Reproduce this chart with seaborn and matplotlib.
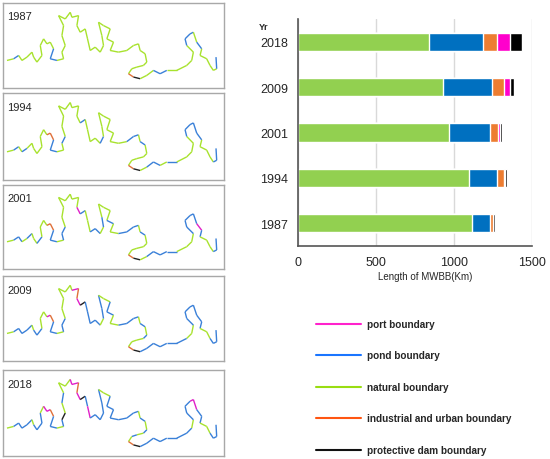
import numpy as np
import pandas as pd
import seaborn as sns
import matplotlib.pyplot as plt
from matplotlib.collections import LineCollection
from matplotlib.lines import Line2D

# bar chart data (km)
years = ['2018', '2009', '2001', '1994', '1987']
categories = ['natural', 'pond', 'industrial', 'port', 'dam']
natural = [838, 929, 968, 1094, 1118]
pond = [348, 312, 265, 184, 115]
industrial = [90, 80, 47, 40, 15]
port = [81, 36, 17, 11, 4]
dam = [81, 30, 13, 11, 11]

bar_colors = {'natural': '#92d050', 'pond': '#0070c0', 'industrial': '#ed7d31',
              'port': '#ff00cc', 'dam': '#000000'}

# rough coastline traced from the 1987 map (pixel coords inside the panel)
coast_x = [20, 40, 55, 65, 80, 95, 100, 110, 125, 120, 130, 140, 150, 160, 150, 170, 190, 185, 195,
           185, 190, 175, 195, 210, 215, 235, 230, 240, 255, 262, 270, 285, 300, 310, 305, 295, 310,
           330, 320, 340, 330, 355, 380, 400, 415, 420, 435, 440, 430, 410, 395, 385, 400, 420, 440,
           460, 480, 500, 530, 560, 575, 580, 560, 555, 570, 580, 590, 605, 600, 620, 630, 640, 650, 648]
coast_y = [185, 180, 170, 185, 175, 160, 175, 190, 170, 140, 120, 135, 130, 150, 180, 185, 180, 160, 140,
           110, 80, 50, 60, 40, 55, 50, 80, 100, 90, 120, 155, 145, 160, 140, 110, 70, 80,
           90, 120, 130, 155, 160, 155, 140, 135, 155, 165, 190, 200, 205, 210, 225, 235, 240, 230,
           215, 225, 215, 215, 200, 185, 160, 140, 120, 105, 100, 130, 150, 170, 180, 200, 215, 210, 175]

# boundary type of each coastline segment per year (g natural, b pond, o industrial, m port, k dam)
seg_1987 = "gbgggggggg" "gggbbggggg" "gggggggggg" "gggggggggg" "gggggggggg" "gokggbbggg" "ggbbbgbggg" "ggb"
seg_1994 = "gbgbgggggg" "goobbggbgg" "gggggggbgg" "ggbggggggg" "ggbbgbgggg" "gokgbbgbgg" "ggbbbbbggg" "gbb"
seg_2001 = "gbbgbggbgg" "goobbgbbgg" "ggggggmbgg" "bbgbggggbg" "gbbbgbgggg" "gokgbbbbgg" "gbbbbbmbgg" "gbb"
seg_2009 = "gbbbbgbbgg" "gmobbgbbgg" "ggggmomkbb" "bbgbbggbbg" "gbbbgbgbgg" "gokbbbbbbg" "gbbbbbbbgg" "bbb"
seg_2018 = "gbbbbgbbbg" "mmobbgbkgb" "gggmmomkbm" "bbbbbggbbb" "bbbbgbgbgb" "gokbbbbbbb" "gbbbmmbbgg" "bbb"
map_years = ['1987', '1994', '2001', '2009', '2018']
map_segs = [seg_1987, seg_1994, seg_2001, seg_2009, seg_2018]
map_colors = {'g': '#a8e22e', 'b': '#3a80d8', 'o': '#e0703a', 'm': '#e020c8', 'k': '#202020'}

legend_labels = ['port boundary', 'pond boundary', 'natural boundary',
                 'industrial and urban boundary', 'protective dam boundary']
legend_colors = ['#ff22cc', '#1a75ff', '#99dd11', '#ff5511', '#111111']

sns.set_style('white')
plt.rcParams['font.family'] = ['Liberation Sans', 'DejaVu Sans']

fig = plt.figure(figsize=(5.5, 4.6), dpi=100)

# ---- left: map panels
panel_px = [(4, 89), (94, 181), (186, 270), (277, 362), (371, 457)]
cx = (np.array(coast_x) - 8) / 664
cy = (np.array(coast_y) - 12) / 256
pts = np.column_stack([cx, cy])
segments = np.stack([pts[:-1], pts[1:]], axis=1)
for (top, bot), yr, seg in zip(panel_px, map_years, map_segs):
    ax = fig.add_axes([3 / 550, 1 - bot / 460, 221 / 550, (bot - top) / 460])
    lc = LineCollection(segments, colors=[map_colors[c] for c in seg], linewidths=1.0)
    ax.add_collection(lc)
    ax.set_xlim(0, 1)
    ax.set_ylim(1, 0)
    ax.set_xticks([])
    ax.set_yticks([])
    for s in ax.spines.values():
        s.set_color('#a8a8a8')
        s.set_linewidth(1.0)
    ax.text(0.02, 0.9, yr, transform=ax.transAxes, fontsize=8, va='top', ha='left')

# ---- right: stacked horizontal bars
rows = []
for i, yr in enumerate(years):
    vals = [natural[i], pond[i], industrial[i], port[i], dam[i]]
    cum = np.cumsum(vals)
    for c, v in zip(categories, cum):
        rows.append({'year': yr, 'category': c, 'cum': v})
df = pd.DataFrame(rows)

axb = fig.add_axes([297.7 / 550, 1 - 247 / 460, 234.3 / 550, 227 / 460])
for c in categories[::-1]:
    sns.barplot(data=df[df['category'] == c], x='cum', y='year', order=years,
                color=bar_colors[c], width=0.4, errorbar=None, saturation=1, ax=axb)
axb.set_xlim(0, 1500)
axb.set_xticks([0, 500, 1000, 1500])
axb.grid(axis='x', color='#d9d9d9', linewidth=1)
axb.set_axisbelow(True)
axb.set_xlabel('')
axb.set_ylabel('')
axb.tick_params(length=0, labelsize=9)
axb.tick_params(axis='y', pad=7)
axb.tick_params(axis='x', pad=7)
for side in ['top', 'right']:
    axb.spines[side].set_visible(False)
for side in ['left', 'bottom']:
    axb.spines[side].set_color('#555555')
    axb.spines[side].set_linewidth(1.2)

fig.text(259 / 550, 1 - 27 / 460, 'Yr', fontsize=6.5, fontweight='bold', va='center')
fig.text(425 / 550, 1 - 277 / 460, 'Length of MWBB(Km)', fontsize=7, ha='center', va='center')

# ---- legend below the bars
handles = [Line2D([], [], color=c, linewidth=1.5) for c in legend_colors]
fig.legend(handles, legend_labels, loc='upper left', bbox_to_anchor=(316 / 550, 1 - 320 / 460),
           frameon=False, handlelength=4.5, handletextpad=0.6, labelspacing=2.15,
           borderpad=0, borderaxespad=0, prop={'weight': 'bold', 'size': 7.2})

fig.savefig('out.png', dpi=100)
